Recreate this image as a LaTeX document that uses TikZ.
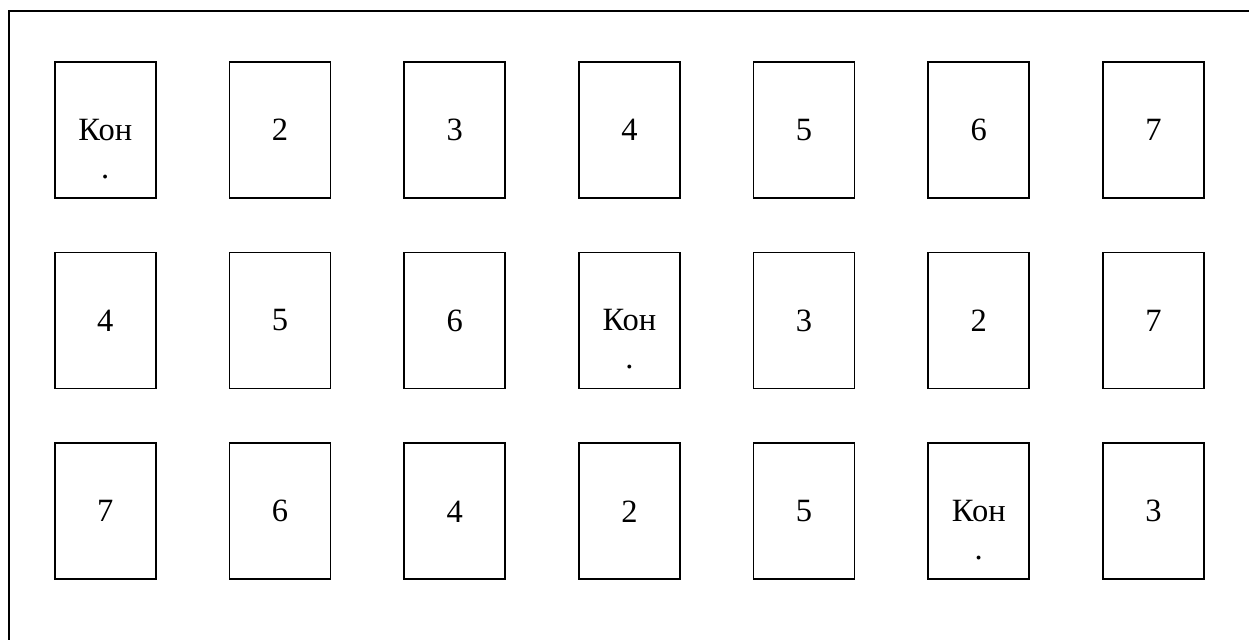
\documentclass[tikz,border=0pt]{standalone}
\usepackage{fontspec}
\setmainfont{Liberation Serif}
\usetikzlibrary{calc}

\tikzset{
  card/.style={draw,line width=1pt,minimum width=2.02cm,minimum height=2.72cm,
    inner sep=0pt,font=\fontsize{18.5}{21}\selectfont},
  dotlbl/.style={anchor=base,inner sep=0pt,font=\fontsize{18.5}{21}\selectfont}
}

\begin{document}
\begin{tikzpicture}[x=0.02cm,y=-0.02cm]
  \useasboundingbox (0,0) rectangle (1249,640);
  \draw[line width=1pt] (1249,11) -- (9,11) -- (9,640);
  \foreach \row/\y/\labels in {1/130/{Кон,2,3,4,5,6,7},
                               2/320.5/{4,5,6,Кон,3,2,7},
                               3/511.3/{7,6,4,2,5,Кон,3}}{
    \foreach \lbl [count=\col] in \labels {
      \node[card] (card-\row-\col) at ({105.3+174.7*(\col-1)},\y) {\lbl};
    }
  }
  % second line of the short labels
  \node[dotlbl] (dot-1-1) at ($(card-1-1.center)+(0,48)$) {.};
  \node[dotlbl] (dot-2-4) at ($(card-2-4.center)+(0,48)$) {.};
  \node[dotlbl] (dot-3-6) at ($(card-3-6.center)+(0,48)$) {.};
\end{tikzpicture}
\end{document}
